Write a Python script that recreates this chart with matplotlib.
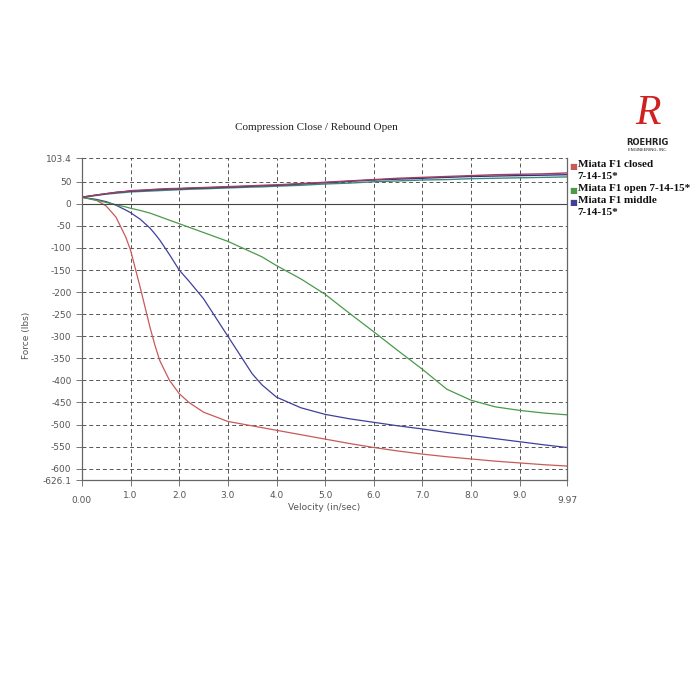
import matplotlib
matplotlib.use("Agg")
import matplotlib.pyplot as plt

# velocity (in/sec) sample points
vel = [0.0, 0.3, 0.5, 0.7, 0.9, 1.0, 1.2, 1.4, 1.5, 1.6, 1.8, 2.0, 2.2, 2.5,
       3.0, 3.5, 3.7, 4.0, 4.5, 5.0, 5.5, 6.0, 6.5, 7.0, 7.5, 8.0, 8.5, 9.0, 9.5, 9.97]

# compression side (negative force, lbs)
closed_comp = [15, 8, -5, -30, -75, -105, -190, -280, -320, -355, -400, -430, -450, -472,
               -493, -503, -507, -513, -523, -533, -543, -552, -560, -567, -573, -578, -583, -587, -591, -594]
middle_comp = [15, 10, 5, -3, -14, -20, -35, -55, -68, -82, -115, -150, -175, -215,
               -300, -385, -410, -438, -462, -477, -487, -495, -503, -510, -518, -525, -532, -539, -546, -552]
open_comp = [15, 8, 3, -2, -7, -10, -15, -21, -25, -29, -37, -45, -53, -65,
             -85, -110, -120, -140, -170, -205, -248, -290, -333, -375, -420, -445, -460, -468, -474, -478]

# rebound side (positive force, lbs)
closed_reb = [15, 20, 23, 26, 28, 30, 31, 32, 33, 33.5, 34.5, 35, 36, 37,
              39, 41, 42, 43, 46, 49, 52, 55, 58, 60, 62, 64, 66, 67, 68, 70]
middle_reb = [15, 20, 23, 26, 28, 29, 30, 31, 32, 32.5, 33.5, 34, 35, 36,
              38, 40, 41, 42, 45, 48, 51, 54, 56, 58, 60, 62, 63, 64, 65, 66]
open_reb = [15, 19, 22, 24, 26, 27, 28, 29, 29.5, 30, 31, 32, 33, 34,
            36, 38, 38.5, 40, 42, 45, 47, 50, 52, 54, 55, 57, 58, 59, 60, 61]

x_ticks = [0.0, 1.0, 2.0, 3.0, 4.0, 5.0, 6.0, 7.0, 8.0, 9.0, 9.97]
y_ticks = [103.4, 50, 0, -50, -100, -150, -200, -250, -300, -350, -400, -450, -500, -550, -600, -626.1]

legend_labels = ["Miata F1 closed\n7-14-15*", "Miata F1 open 7-14-15*", "Miata F1 middle\n7-14-15*"]

red = "#c85a5a"
green = "#4a9a4a"
blue = "#40409a"

fig = plt.figure(figsize=(7, 7), dpi=100)
ax = fig.add_axes([0.117, 0.314, 0.693, 0.46])

ax.plot(vel, closed_comp, color=red, lw=0.9)
ax.plot(vel, middle_comp, color=blue, lw=0.9)
ax.plot(vel, open_comp, color=green, lw=0.9)
ax.plot(vel, open_reb, color="#3a8a7a", lw=1.0)
ax.plot(vel, middle_reb, color="#303080", lw=1.0)
ax.plot(vel, closed_reb, color="#a04060", lw=1.0)

ax.set_xlim(0, 9.97)
ax.set_ylim(-626.1, 103.4)
ax.set_xticks(x_ticks)
ax.set_yticks(y_ticks)
ax.set_xticklabels(["0.00"] + ["%.1f" % t for t in x_ticks[1:-1]] + ["9.97"])
ax.set_yticklabels(["103.4"] + ["%d" % t for t in y_ticks[1:-1]] + ["-626.1"])
for lbl in (ax.get_xticklabels()[0], ax.get_xticklabels()[-1]):
    lbl.set_y(-0.018)

ax.grid(True, ls=(0, (4, 3)), color="#555555", lw=0.7)
ax.axhline(0, color="#444444", lw=0.8)
ax.tick_params(labelsize=6.5, labelcolor="#555555", color="#777777", length=4, width=0.7)

for side in ["left", "bottom", "right"]:
    ax.spines[side].set_color("#666666")
    ax.spines[side].set_linewidth(0.9)
ax.spines["top"].set_visible(False)

ax.set_xlabel("Velocity (in/sec)", fontsize=6.5, color="#555555")
ax.xaxis.set_label_coords(0.5, -0.07)
ax.set_ylabel("Force (lbs)", fontsize=6.5, color="#555555")
ax.yaxis.set_label_coords(-0.105, 0.45)

fig.text(0.452, 0.818, "Compression Close / Rebound Open", family="Liberation Serif",
         fontsize=8, ha="center", va="center", color="#222222")

# legend
colors = [red, green, blue]
ys = [0.769, 0.734, 0.717]
for lab, c, y in zip(legend_labels, colors, ys):
    fig.text(0.813, y, "\u25A0", color=c, fontsize=6, va="top", ha="left")
    fig.text(0.825, y + 0.003, lab, family="Liberation Serif", fontweight="bold",
             fontsize=8, va="top", ha="left", color="#111111", linespacing=1.45)

# logo
fig.text(0.925, 0.838, "R", family="Liberation Serif", style="italic", fontsize=30,
         color="#d02020", ha="center", va="center")
fig.text(0.925, 0.797, "ROEHRIG", family="DejaVu Sans", fontweight="bold", fontsize=6,
         color="#222222", ha="center", va="center")
fig.text(0.925, 0.786, "ENGINEERING, INC.", family="DejaVu Sans", fontsize=3,
         color="#222222", ha="center", va="center")

fig.savefig("out.png", dpi=100)
plt.close()
